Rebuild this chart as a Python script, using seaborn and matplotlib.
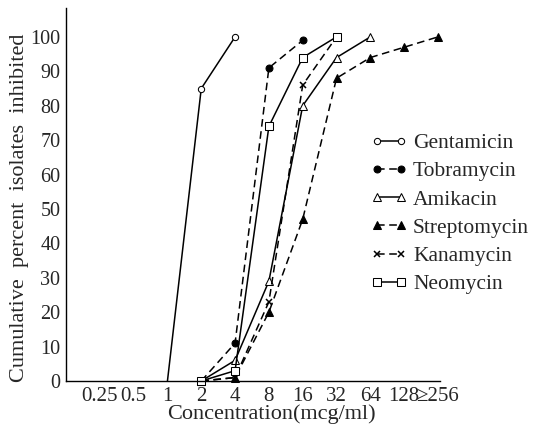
import numpy as np
import pandas as pd
import matplotlib
matplotlib.use("Agg")
import matplotlib.pyplot as plt
import seaborn as sns

# concentration categories on the x axis (evenly spaced, log2 steps)
conc_labels = ['0.25', '0.5', '1', '2', '4', '8', '16', '32', '64', '128', '≥256']

# cumulative percent of isolates inhibited
genta_x = ['1', '2', '4']
genta_y = [0, 85, 100]
tobra_x = ['2', '4', '8', '16']
tobra_y = [0, 11, 91, 99]
amika_x = ['2', '4', '8', '16', '32', '64']
amika_y = [0, 6, 29, 80, 94, 100]
strep_x = ['2', '4', '8', '16', '32', '64', '128', '≥256']
strep_y = [0, 1, 20, 47, 88, 94, 97, 100]
kana_x = ['2', '4', '8', '16', '32']
kana_y = [0, 1, 23, 86, 100]
neo_x = ['2', '4', '8', '16', '32']
neo_y = [0, 3, 74, 94, 100]

sns.set_style("white")
plt.rcParams['font.family'] = ['Liberation Serif', 'DejaVu Serif']
plt.rcParams['mathtext.fontset'] = 'stix'

fig = plt.figure(figsize=(5.35, 4.32), dpi=100)
ax = fig.add_axes([66 / 535, 1 - 381 / 432, 374 / 535, 373 / 432])


def pos(labels):
    return [conc_labels.index(l) for l in labels]


dash = (5, 3)
series = [
    ('Gentamicin', genta_x, genta_y, dict(marker='o', markersize=4.5, markerfacecolor='white', linestyle='-', markevery=[1, 2])),
    ('Tobramycin', tobra_x, tobra_y, dict(marker='o', markersize=5, markerfacecolor='black', dashes=dash)),
    ('Amikacin', amika_x, amika_y, dict(marker='^', markersize=5.5, markerfacecolor='white', linestyle='-')),
    ('Streptomycin', strep_x, strep_y, dict(marker='^', markersize=5.5, markerfacecolor='black', dashes=dash)),
    ('Kanamycin', kana_x, kana_y, dict(marker='x', markersize=4.5, markeredgewidth=1.1, dashes=dash)),
    ('Neomycin', neo_x, neo_y, dict(marker='s', markersize=5.5, markerfacecolor='white', linestyle='-')),
]

for name, xs, ys, kw in series:
    df = pd.DataFrame({'x': pos(xs), 'y': ys})
    sns.lineplot(data=df, x='x', y='y', ax=ax, color='black', linewidth=1.1,
                 markeredgecolor='black', label=name, clip_on=False, **kw)

ax.set_xlim(-1, 10.06)
ax.set_ylim(0, 108.4)
ax.set_xticks(range(len(conc_labels)))
ax.set_xticklabels(conc_labels, fontsize=15)
ax.set_yticks(range(0, 101, 10))
ax.tick_params(axis='y', labelsize=14.5, direction='in', length=4, width=0.8, pad=4)
ax.tick_params(axis='x', direction='in', length=3, width=0.8, pad=4)

for s in ['top', 'right']:
    ax.spines[s].set_visible(False)
for s in ['left', 'bottom']:
    ax.spines[s].set_color('black')
    ax.spines[s].set_linewidth(1.0)

ax.set_xlabel('Concentration(mcg/ml)', fontsize=16)
ax.xaxis.set_label_coords(0.548, -0.062)
ax.set_ylabel('Cumulative  percent  isolates  inhibited', fontsize=16)
ax.yaxis.set_label_coords(-0.098, 0.464)

ax.legend(loc='upper left', bbox_to_anchor=(371 / 535, 1 - 133 / 432),
          bbox_transform=fig.transFigure, frameon=False, fontsize=15.5,
          numpoints=2, handlelength=1.7, handletextpad=0.25, labelspacing=0.38,
          borderpad=0, borderaxespad=0)

fig.savefig('out.png', dpi=100)
